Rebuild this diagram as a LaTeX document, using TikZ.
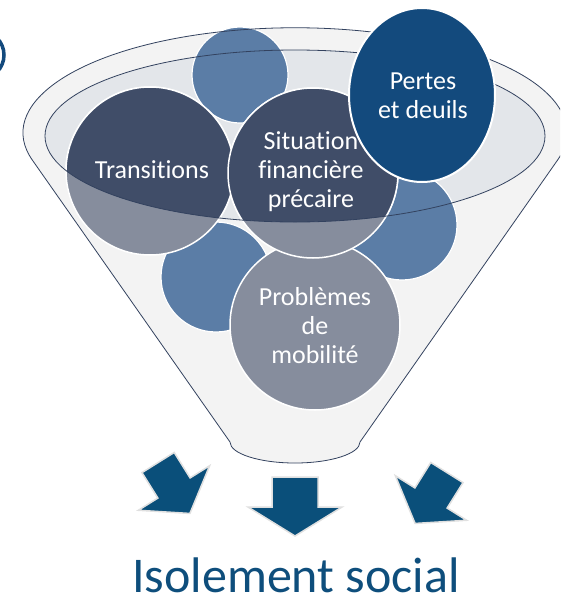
\documentclass[tikz,border=0pt]{standalone}
\usepackage{fontspec}
\setmainfont{Carlito}[RawFeature={-liga}]
\definecolor{funnelfill}{HTML}{F3F3F3}
\definecolor{rimfill}{HTML}{E3E6EA}
\definecolor{lineblue}{HTML}{33425F}
\definecolor{darkc}{HTML}{404D68}
\definecolor{grayc}{HTML}{868D9D}
\definecolor{bluec}{HTML}{5B7DA6}
\definecolor{navyc}{HTML}{134A7D}
\definecolor{arrowc}{HTML}{0A4F7A}
\definecolor{textblue}{HTML}{0E4E7C}
\begin{document}
\begin{tikzpicture}[x=1pt,y=-1pt,
  funnelbody/.style={fill=funnelfill},
  rimline/.style={draw=lineblue,line width=0.8pt},
  blueball/.style={fill=bluec,draw=white,line width=1.2pt},
  grayball/.style={fill=grayc,draw=white,line width=1.5pt},
  darkball/.style={fill=darkc,draw=white,line width=1.5pt},
  lbl/.style={text=white,align=center,font=\fontsize{26}{29}\selectfont,inner sep=0pt},
  blockarrow/.style={fill=arrowc,draw=black!12,line width=1.5pt,line join=miter}
]
\useasboundingbox (0,0) rectangle (560,600);
\clip (0,0) rectangle (560,600);
\fill[white] (0,0) rectangle (560,600);

% funnel body
\path[funnelbody] (33,161) arc[start angle=164.4,end angle=375.6,x radius=272,y radius=105]
  -- (360,442) arc[start angle=0,end angle=180,x radius=65,y radius=21] -- cycle;
% rim opening
\fill[rimfill] (295,136) ellipse[x radius=250,y radius=86];

% blue circles behind
\path[blueball] (240,75) circle[radius=48];
\path[blueball] (402,225) circle[radius=55];
\path[blueball] (216,277) circle[radius=55];

% grey circles
\path[grayball] (315,325) circle[radius=85];
\path[grayball] (150,171) circle[radius=84];
\path[grayball] (313,173) circle[radius=85];
\begin{scope}
  \clip (295,136) ellipse[x radius=250,y radius=86];
  \path[darkball] (150,171) circle[radius=84];
  \path[darkball] (313,173) circle[radius=85];
\end{scope}

% rim lines on top
\draw[rimline] (295,136) ellipse[x radius=250,y radius=86];
\draw[rimline] (33,161) arc[start angle=164.4,end angle=375.6,x radius=272,y radius=105]
  -- (360,442) arc[start angle=0,end angle=180,x radius=65,y radius=21] -- cycle;

% top-right ellipse
\path[fill=navyc,draw=white,line width=2pt] (422,95) ellipse[x radius=73,y radius=87];

% labels
\node[lbl] (ttrans) at (152,170) {Transitions};
\node[lbl] (tsit) at (311,172) {Situation\\financière\\précaire};
\node[lbl] (tpertes) at (423,96) {Pertes\\et deuils};
\node[lbl] (tprob) at (315,326) {Problèmes\\de\\mobilité};

% arrows
\begin{scope}[shift={(295,506.5)}]
  \path[blockarrow] (-23,-29.5) -- (23,-29.5) -- (23,0.5) -- (47,0.5) -- (0,29.5) -- (-47,0.5) -- (-23,0.5) -- cycle;
\end{scope}
\begin{scope}[shift={(174,488)},rotate=32]
  \path[blockarrow] (-19,-30) -- (19,-30) -- (19,0) -- (42,0) -- (0,30) -- (-42,0) -- (-19,0) -- cycle;
\end{scope}
\begin{scope}[shift={(431,498)},rotate=-32]
  \path[blockarrow] (-19,-30) -- (19,-30) -- (19,0) -- (42,0) -- (0,30) -- (-42,0) -- (-19,0) -- cycle;
\end{scope}

\node[anchor=base,text=textblue,font=\fontsize{50}{60}\selectfont,inner sep=0pt] (iso) at (296,592) {Isolement social};

% partial ring at the left edge
\draw[navyc,line width=3.5pt] (-20,55) circle[radius=24];
\end{tikzpicture}
\end{document}
